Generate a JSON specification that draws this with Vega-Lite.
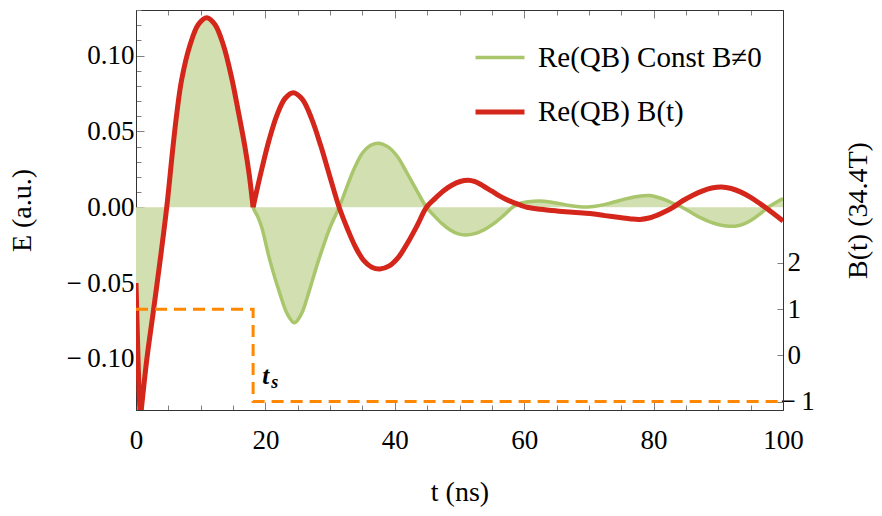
{
  "$schema": "https://vega.github.io/schema/vega-lite/v6.json",
  "width": 647,
  "height": 400,
  "autosize": {"type": "none"},
  "padding": {"left": 136, "top": 10, "right": 99, "bottom": 106},
  "background": "white",
  "config": {
    "view": {"stroke": "#333333", "strokeWidth": 1},
    "font": "Liberation Serif",
    "axis": {
      "grid": false,
      "domainColor": "#333333",
      "domainWidth": 1,
      "tickColor": "#808080",
      "tickWidth": 1,
      "labelFont": "Liberation Serif",
      "labelFontSize": 27,
      "labelColor": "#000000",
      "titleFont": "Liberation Serif",
      "titleFontSize": 28,
      "titleFontWeight": "normal",
      "titleColor": "#000000",
      "labelFlush": false,
      "labelOverlap": false,
      "labelBound": false
    },
    "legend": {
      "orient": "none",
      "legendX": 337,
      "legendY": 21,
      "padding": 0,
      "symbolType": "stroke",
      "symbolSize": 2401,
      "labelFont": "Liberation Serif",
      "labelFontSize": 29,
      "labelColor": "#000000",
      "labelOffset": 11,
      "labelLimit": 400,
      "rowPadding": 12
    }
  },
  "datasets": {
    "qb": [
      {"t": 0, "E": -0.050, "seg": "g", "series": "Re(QB) Const B≠0"},
      {"t": 0.25, "E": -0.090, "seg": "g", "series": "Re(QB) Const B≠0"},
      {"t": 0.5, "E": -0.124, "seg": "g", "series": "Re(QB) Const B≠0"},
      {"t": 0.7, "E": -0.137, "seg": "g", "series": "Re(QB) Const B≠0"},
      {"t": 0.95, "E": -0.128, "seg": "g", "series": "Re(QB) Const B≠0"},
      {"t": 1.65, "E": -0.101, "seg": "g", "series": "Re(QB) Const B≠0"},
      {"t": 2.7, "E": -0.068, "seg": "g", "series": "Re(QB) Const B≠0"},
      {"t": 3.7, "E": -0.036, "seg": "g", "series": "Re(QB) Const B≠0"},
      {"t": 4.75, "E": 0.0, "seg": "g", "series": "Re(QB) Const B≠0"},
      {"t": 5.67, "E": 0.038, "seg": "g", "series": "Re(QB) Const B≠0"},
      {"t": 6.28, "E": 0.061, "seg": "g", "series": "Re(QB) Const B≠0"},
      {"t": 7.05, "E": 0.084, "seg": "g", "series": "Re(QB) Const B≠0"},
      {"t": 8.35, "E": 0.107, "seg": "g", "series": "Re(QB) Const B≠0"},
      {"t": 9.63, "E": 0.1205, "seg": "g", "series": "Re(QB) Const B≠0"},
      {"t": 10.93, "E": 0.125, "seg": "g", "series": "Re(QB) Const B≠0"},
      {"t": 12.2, "E": 0.1205, "seg": "g", "series": "Re(QB) Const B≠0"},
      {"t": 13.5, "E": 0.107, "seg": "g", "series": "Re(QB) Const B≠0"},
      {"t": 14.8, "E": 0.085, "seg": "g", "series": "Re(QB) Const B≠0"},
      {"t": 15.8, "E": 0.0635, "seg": "g", "series": "Re(QB) Const B≠0"},
      {"t": 16.85, "E": 0.0395, "seg": "g", "series": "Re(QB) Const B≠0"},
      {"t": 17.5, "E": 0.0215, "seg": "g", "series": "Re(QB) Const B≠0"},
      {"t": 18.1, "E": 0.0, "seg": "g", "series": "Re(QB) Const B≠0"},
      {"t": 18.8, "E": -0.0060, "seg": "g", "series": "Re(QB) Const B≠0"},
      {"t": 19.43, "E": -0.0132, "seg": "g", "series": "Re(QB) Const B≠0"},
      {"t": 20.7, "E": -0.0352, "seg": "g", "series": "Re(QB) Const B≠0"},
      {"t": 22.26, "E": -0.0573, "seg": "g", "series": "Re(QB) Const B≠0"},
      {"t": 23.4, "E": -0.0705, "seg": "g", "series": "Re(QB) Const B≠0"},
      {"t": 24.5, "E": -0.0762, "seg": "g", "series": "Re(QB) Const B≠0"},
      {"t": 25.6, "E": -0.0700, "seg": "g", "series": "Re(QB) Const B≠0"},
      {"t": 26.5, "E": -0.0590, "seg": "g", "series": "Re(QB) Const B≠0"},
      {"t": 28.2, "E": -0.0352, "seg": "g", "series": "Re(QB) Const B≠0"},
      {"t": 30.0, "E": -0.0132, "seg": "g", "series": "Re(QB) Const B≠0"},
      {"t": 31.4, "E": 0.0, "seg": "g", "series": "Re(QB) Const B≠0"},
      {"t": 32.6, "E": 0.0135, "seg": "g", "series": "Re(QB) Const B≠0"},
      {"t": 33.8, "E": 0.0262, "seg": "g", "series": "Re(QB) Const B≠0"},
      {"t": 35.0, "E": 0.0358, "seg": "g", "series": "Re(QB) Const B≠0"},
      {"t": 36.2, "E": 0.0408, "seg": "g", "series": "Re(QB) Const B≠0"},
      {"t": 37.4, "E": 0.0423, "seg": "g", "series": "Re(QB) Const B≠0"},
      {"t": 38.9, "E": 0.0400, "seg": "g", "series": "Re(QB) Const B≠0"},
      {"t": 40.4, "E": 0.0335, "seg": "g", "series": "Re(QB) Const B≠0"},
      {"t": 41.9, "E": 0.0225, "seg": "g", "series": "Re(QB) Const B≠0"},
      {"t": 43.4, "E": 0.0110, "seg": "g", "series": "Re(QB) Const B≠0"},
      {"t": 44.9, "E": 0.0, "seg": "g", "series": "Re(QB) Const B≠0"},
      {"t": 46.1, "E": -0.0057, "seg": "g", "series": "Re(QB) Const B≠0"},
      {"t": 47.3, "E": -0.0108, "seg": "g", "series": "Re(QB) Const B≠0"},
      {"t": 48.5, "E": -0.0148, "seg": "g", "series": "Re(QB) Const B≠0"},
      {"t": 49.7, "E": -0.0174, "seg": "g", "series": "Re(QB) Const B≠0"},
      {"t": 50.9, "E": -0.0183, "seg": "g", "series": "Re(QB) Const B≠0"},
      {"t": 52.36, "E": -0.0174, "seg": "g", "series": "Re(QB) Const B≠0"},
      {"t": 53.82, "E": -0.0148, "seg": "g", "series": "Re(QB) Const B≠0"},
      {"t": 55.28, "E": -0.0108, "seg": "g", "series": "Re(QB) Const B≠0"},
      {"t": 56.74, "E": -0.0057, "seg": "g", "series": "Re(QB) Const B≠0"},
      {"t": 58.2, "E": 0.0, "seg": "g", "series": "Re(QB) Const B≠0"},
      {"t": 59.1, "E": 0.0022, "seg": "g", "series": "Re(QB) Const B≠0"},
      {"t": 60.6, "E": 0.0036, "seg": "g", "series": "Re(QB) Const B≠0"},
      {"t": 62.4, "E": 0.0041, "seg": "g", "series": "Re(QB) Const B≠0"},
      {"t": 64.0, "E": 0.0035, "seg": "g", "series": "Re(QB) Const B≠0"},
      {"t": 65.5, "E": 0.0024, "seg": "g", "series": "Re(QB) Const B≠0"},
      {"t": 67.0, "E": 0.0012, "seg": "g", "series": "Re(QB) Const B≠0"},
      {"t": 68.5, "E": 0.0004, "seg": "g", "series": "Re(QB) Const B≠0"},
      {"t": 69.8, "E": 0.0002, "seg": "g", "series": "Re(QB) Const B≠0"},
      {"t": 71.0, "E": 0.0007, "seg": "g", "series": "Re(QB) Const B≠0"},
      {"t": 72.5, "E": 0.0019, "seg": "g", "series": "Re(QB) Const B≠0"},
      {"t": 74.0, "E": 0.0036, "seg": "g", "series": "Re(QB) Const B≠0"},
      {"t": 75.5, "E": 0.0054, "seg": "g", "series": "Re(QB) Const B≠0"},
      {"t": 77.0, "E": 0.0068, "seg": "g", "series": "Re(QB) Const B≠0"},
      {"t": 78.4, "E": 0.0076, "seg": "g", "series": "Re(QB) Const B≠0"},
      {"t": 79.4, "E": 0.0077, "seg": "g", "series": "Re(QB) Const B≠0"},
      {"t": 80.6, "E": 0.0066, "seg": "g", "series": "Re(QB) Const B≠0"},
      {"t": 82.0, "E": 0.0045, "seg": "g", "series": "Re(QB) Const B≠0"},
      {"t": 83.3, "E": 0.0020, "seg": "g", "series": "Re(QB) Const B≠0"},
      {"t": 84.4, "E": 0.0, "seg": "g", "series": "Re(QB) Const B≠0"},
      {"t": 85.8, "E": -0.0035, "seg": "g", "series": "Re(QB) Const B≠0"},
      {"t": 87.3, "E": -0.0070, "seg": "g", "series": "Re(QB) Const B≠0"},
      {"t": 88.8, "E": -0.0098, "seg": "g", "series": "Re(QB) Const B≠0"},
      {"t": 90.3, "E": -0.0117, "seg": "g", "series": "Re(QB) Const B≠0"},
      {"t": 91.6, "E": -0.0125, "seg": "g", "series": "Re(QB) Const B≠0"},
      {"t": 92.6, "E": -0.0125, "seg": "g", "series": "Re(QB) Const B≠0"},
      {"t": 93.8, "E": -0.0113, "seg": "g", "series": "Re(QB) Const B≠0"},
      {"t": 95.2, "E": -0.0082, "seg": "g", "series": "Re(QB) Const B≠0"},
      {"t": 96.5, "E": -0.0042, "seg": "g", "series": "Re(QB) Const B≠0"},
      {"t": 97.7, "E": 0.0, "seg": "g", "series": "Re(QB) Const B≠0"},
      {"t": 98.9, "E": 0.0032, "seg": "g", "series": "Re(QB) Const B≠0"},
      {"t": 100, "E": 0.0058, "seg": "g", "series": "Re(QB) Const B≠0"},

      {"t": 0, "E": -0.050, "seg": "r1", "series": "Re(QB) B(t)"},
      {"t": 0.25, "E": -0.090, "seg": "r1", "series": "Re(QB) B(t)"},
      {"t": 0.5, "E": -0.124, "seg": "r1", "series": "Re(QB) B(t)"},
      {"t": 0.7, "E": -0.137, "seg": "r1", "series": "Re(QB) B(t)"},
      {"t": 0.95, "E": -0.128, "seg": "r1", "series": "Re(QB) B(t)"},
      {"t": 1.65, "E": -0.101, "seg": "r1", "series": "Re(QB) B(t)"},
      {"t": 2.7, "E": -0.068, "seg": "r1", "series": "Re(QB) B(t)"},
      {"t": 3.7, "E": -0.036, "seg": "r1", "series": "Re(QB) B(t)"},
      {"t": 4.75, "E": 0.0, "seg": "r1", "series": "Re(QB) B(t)"},
      {"t": 5.67, "E": 0.038, "seg": "r1", "series": "Re(QB) B(t)"},
      {"t": 6.28, "E": 0.061, "seg": "r1", "series": "Re(QB) B(t)"},
      {"t": 7.05, "E": 0.084, "seg": "r1", "series": "Re(QB) B(t)"},
      {"t": 8.35, "E": 0.107, "seg": "r1", "series": "Re(QB) B(t)"},
      {"t": 9.63, "E": 0.1205, "seg": "r1", "series": "Re(QB) B(t)"},
      {"t": 10.93, "E": 0.125, "seg": "r1", "series": "Re(QB) B(t)"},
      {"t": 12.2, "E": 0.1205, "seg": "r1", "series": "Re(QB) B(t)"},
      {"t": 13.5, "E": 0.107, "seg": "r1", "series": "Re(QB) B(t)"},
      {"t": 14.8, "E": 0.085, "seg": "r1", "series": "Re(QB) B(t)"},
      {"t": 15.8, "E": 0.0635, "seg": "r1", "series": "Re(QB) B(t)"},
      {"t": 16.85, "E": 0.0395, "seg": "r1", "series": "Re(QB) B(t)"},
      {"t": 17.5, "E": 0.0215, "seg": "r1", "series": "Re(QB) B(t)"},
      {"t": 18.1, "E": 0.0, "seg": "r1", "series": "Re(QB) B(t)"},

      {"t": 18.1, "E": 0.0, "seg": "r2", "series": "Re(QB) B(t)"},
      {"t": 19.34, "E": 0.0234, "seg": "r2", "series": "Re(QB) B(t)"},
      {"t": 20.58, "E": 0.0445, "seg": "r2", "series": "Re(QB) B(t)"},
      {"t": 21.82, "E": 0.0612, "seg": "r2", "series": "Re(QB) B(t)"},
      {"t": 23.06, "E": 0.0719, "seg": "r2", "series": "Re(QB) B(t)"},
      {"t": 24.3, "E": 0.0756, "seg": "r2", "series": "Re(QB) B(t)"},
      {"t": 25.72, "E": 0.0712, "seg": "r2", "series": "Re(QB) B(t)"},
      {"t": 27.14, "E": 0.0585, "seg": "r2", "series": "Re(QB) B(t)"},
      {"t": 28.56, "E": 0.0405, "seg": "r2", "series": "Re(QB) B(t)"},
      {"t": 29.98, "E": 0.0200, "seg": "r2", "series": "Re(QB) B(t)"},
      {"t": 31.4, "E": 0.0, "seg": "r2", "series": "Re(QB) B(t)"},
      {"t": 32.66, "E": -0.0140, "seg": "r2", "series": "Re(QB) B(t)"},
      {"t": 33.92, "E": -0.0262, "seg": "r2", "series": "Re(QB) B(t)"},
      {"t": 35.18, "E": -0.0350, "seg": "r2", "series": "Re(QB) B(t)"},
      {"t": 36.44, "E": -0.0395, "seg": "r2", "series": "Re(QB) B(t)"},
      {"t": 37.7, "E": -0.0407, "seg": "r2", "series": "Re(QB) B(t)"},
      {"t": 39.14, "E": -0.0387, "seg": "r2", "series": "Re(QB) B(t)"},
      {"t": 40.58, "E": -0.0329, "seg": "r2", "series": "Re(QB) B(t)"},
      {"t": 42.02, "E": -0.0232, "seg": "r2", "series": "Re(QB) B(t)"},
      {"t": 43.46, "E": -0.0120, "seg": "r2", "series": "Re(QB) B(t)"},
      {"t": 44.9, "E": 0.0, "seg": "r2", "series": "Re(QB) B(t)"},
      {"t": 46.2, "E": 0.0057, "seg": "r2", "series": "Re(QB) B(t)"},
      {"t": 47.5, "E": 0.0107, "seg": "r2", "series": "Re(QB) B(t)"},
      {"t": 48.8, "E": 0.0145, "seg": "r2", "series": "Re(QB) B(t)"},
      {"t": 50.1, "E": 0.0170, "seg": "r2", "series": "Re(QB) B(t)"},
      {"t": 51.4, "E": 0.0178, "seg": "r2", "series": "Re(QB) B(t)"},
      {"t": 52.3, "E": 0.0170, "seg": "r2", "series": "Re(QB) B(t)"},
      {"t": 53.3, "E": 0.0150, "seg": "r2", "series": "Re(QB) B(t)"},
      {"t": 54.2, "E": 0.0126, "seg": "r2", "series": "Re(QB) B(t)"},
      {"t": 55.2, "E": 0.0101, "seg": "r2", "series": "Re(QB) B(t)"},
      {"t": 56.1, "E": 0.0077, "seg": "r2", "series": "Re(QB) B(t)"},
      {"t": 57.0, "E": 0.0056, "seg": "r2", "series": "Re(QB) B(t)"},
      {"t": 57.9, "E": 0.0039, "seg": "r2", "series": "Re(QB) B(t)"},
      {"t": 58.8, "E": 0.0024, "seg": "r2", "series": "Re(QB) B(t)"},
      {"t": 59.6, "E": 0.0011, "seg": "r2", "series": "Re(QB) B(t)"},
      {"t": 60.4, "E": 0.0, "seg": "r2", "series": "Re(QB) B(t)"},
      {"t": 62.5, "E": -0.0013, "seg": "r2", "series": "Re(QB) B(t)"},
      {"t": 65.0, "E": -0.0024, "seg": "r2", "series": "Re(QB) B(t)"},
      {"t": 67.5, "E": -0.0033, "seg": "r2", "series": "Re(QB) B(t)"},
      {"t": 70.2, "E": -0.0041, "seg": "r2", "series": "Re(QB) B(t)"},
      {"t": 72.5, "E": -0.0055, "seg": "r2", "series": "Re(QB) B(t)"},
      {"t": 74.8, "E": -0.0068, "seg": "r2", "series": "Re(QB) B(t)"},
      {"t": 76.5, "E": -0.0077, "seg": "r2", "series": "Re(QB) B(t)"},
      {"t": 77.9, "E": -0.0080, "seg": "r2", "series": "Re(QB) B(t)"},
      {"t": 79.3, "E": -0.0071, "seg": "r2", "series": "Re(QB) B(t)"},
      {"t": 80.5, "E": -0.0053, "seg": "r2", "series": "Re(QB) B(t)"},
      {"t": 81.8, "E": -0.0028, "seg": "r2", "series": "Re(QB) B(t)"},
      {"t": 83.0, "E": 0.0, "seg": "r2", "series": "Re(QB) B(t)"},
      {"t": 84.5, "E": 0.0043, "seg": "r2", "series": "Re(QB) B(t)"},
      {"t": 86.0, "E": 0.0078, "seg": "r2", "series": "Re(QB) B(t)"},
      {"t": 87.5, "E": 0.0107, "seg": "r2", "series": "Re(QB) B(t)"},
      {"t": 89.0, "E": 0.0127, "seg": "r2", "series": "Re(QB) B(t)"},
      {"t": 90.5, "E": 0.0134, "seg": "r2", "series": "Re(QB) B(t)"},
      {"t": 92.0, "E": 0.0124, "seg": "r2", "series": "Re(QB) B(t)"},
      {"t": 93.5, "E": 0.0100, "seg": "r2", "series": "Re(QB) B(t)"},
      {"t": 95.0, "E": 0.0065, "seg": "r2", "series": "Re(QB) B(t)"},
      {"t": 96.5, "E": 0.0022, "seg": "r2", "series": "Re(QB) B(t)"},
      {"t": 97.5, "E": -0.0008, "seg": "r2", "series": "Re(QB) B(t)"},
      {"t": 100, "E": -0.0090, "seg": "r2", "series": "Re(QB) B(t)"}
    ],
    "bt": [
      {"i": 0, "t": 0, "B": 1},
      {"i": 1, "t": 18.1, "B": 1},
      {"i": 2, "t": 18.1, "B": -1},
      {"i": 3, "t": 100, "B": -1}
    ],
    "ts": [
      {"t": 19.5, "B": -0.61}
    ]
  },
  "layer": [
    {
      "data": {"name": "qb"},
      "layer": [
        {
          "transform": [{"filter": "datum.seg == 'g'"}],
          "mark": {"type": "area", "interpolate": "catmull-rom", "color": "#D2DFB0", "clip": true},
          "encoding": {
            "x": {
              "field": "t", "type": "quantitative",
              "scale": {"domain": [0, 100], "nice": false, "zero": false},
              "axis": {
                "orient": "bottom",
                "values": [0, 5, 10, 15, 20, 25, 30, 35, 40, 45, 50, 55, 60, 65, 70, 75, 80, 85, 90, 95, 100],
                "tickCount": 200,
                "labelExpr": "datum.value % 20 === 0 ? format(datum.value, 'd') : ''",
                "labelFontSize": {"condition": {"test": "datum.value % 20 === 0", "value": 27}, "value": 0},
                "tickSize": {"condition": {"test": "datum.value % 20 === 0", "value": -8}, "value": -5},
                "labelPadding": 25,
                "labelOverlap": false,
                "title": "t (ns)",
                "titlePadding": 25
              }
            },
            "y": {
              "field": "E", "type": "quantitative",
              "scale": {"domain": [-0.1337, 0.1301], "nice": false, "zero": false},
              "axis": {
                "orient": "left",
                "values": [-0.13, -0.12, -0.11, -0.1, -0.09, -0.08, -0.07, -0.06, -0.05, -0.04, -0.03, -0.02, -0.01, 0, 0.01, 0.02, 0.03, 0.04, 0.05, 0.06, 0.07, 0.08, 0.09, 0.1, 0.11, 0.12, 0.13],
                "tickCount": 200,
                "labelExpr": "abs(round(datum.value * 100)) % 5 === 0 ? (datum.value < 0 ? '−\u2009' + format(-datum.value, '.2f') : format(datum.value, '.2f')) : ''",
                "labelFontSize": {"condition": {"test": "abs(round(datum.value * 100)) % 5 === 0", "value": 27}, "value": 0},
                "tickSize": {"condition": {"test": "abs(round(datum.value * 100)) % 5 === 0", "value": -8}, "value": -5},
                "labelPadding": 10,
                "labelOverlap": false,
                "title": "E (a.u.)",
                "titlePadding": 30
              }
            },
            "y2": {"datum": 0}
          }
        },
        {
          "transform": [{"filter": "datum.seg == 'g'"}],
          "mark": {"type": "line", "interpolate": "catmull-rom", "clip": true},
          "encoding": {
            "x": {"field": "t", "type": "quantitative"},
            "y": {"field": "E", "type": "quantitative"},
            "color": {
              "field": "series", "type": "nominal",
              "scale": {"domain": ["Re(QB) Const B≠0", "Re(QB) B(t)"], "range": ["#A9C66C", "#D4261A"]},
              "legend": {"title": null}
            },
            "strokeWidth": {
              "field": "series", "type": "nominal",
              "scale": {"domain": ["Re(QB) Const B≠0", "Re(QB) B(t)"], "range": [3.5, 5]},
              "legend": {"title": null}
            }
          }
        },
        {
          "transform": [{"filter": "datum.seg != 'g'"}],
          "mark": {"type": "line", "interpolate": "catmull-rom", "clip": true},
          "encoding": {
            "x": {"field": "t", "type": "quantitative"},
            "y": {"field": "E", "type": "quantitative"},
            "detail": {"field": "seg"},
            "color": {"field": "series", "type": "nominal"},
            "strokeWidth": {"field": "series", "type": "nominal"}
          }
        }
      ]
    },
    {
      "layer": [
        {
          "data": {"name": "bt"},
          "mark": {"type": "line", "color": "#FF8800", "strokeWidth": 3, "strokeDash": [12, 7], "clip": true},
          "encoding": {
            "x": {
              "field": "t", "type": "quantitative",
              "scale": {"domain": [0, 100], "nice": false, "zero": false},
              "axis": {
                "orient": "top",
                "values": [0, 5, 10, 15, 20, 25, 30, 35, 40, 45, 50, 55, 60, 65, 70, 75, 80, 85, 90, 95, 100],
                "tickCount": 200,
                "labels": false,
                "tickSize": {"condition": {"test": "datum.value % 20 === 0", "value": -8}, "value": -5},
                "title": null
              }
            },
            "y": {
              "field": "B", "type": "quantitative",
              "scale": {"domain": [-1.182, 7.476], "nice": false, "zero": false},
              "axis": {
                "orient": "right",
                "values": [-1, 0, 1, 2],
                "tickCount": 200,
                "labelExpr": "datum.value < 0 ? '−\u2009' + format(-datum.value, 'd') : format(datum.value, 'd')",
                "tickSize": -6,
                "labelPadding": {"condition": {"test": "datum.value < 0", "value": 3}, "value": 10},
                "labelOverlap": false,
                "title": "B(t) (34.4T)",
                "titleAngle": 270,
                "titlePadding": 58
              }
            },
            "order": {"field": "i"}
          }
        },
        {
          "data": {"name": "ts"},
          "mark": {"type": "text", "text": "t", "font": "Liberation Serif", "fontStyle": "italic", "fontWeight": "bold", "fontSize": 25, "align": "left", "baseline": "alphabetic"},
          "encoding": {
            "x": {"field": "t", "type": "quantitative"},
            "y": {"field": "B", "type": "quantitative"}
          }
        },
        {
          "data": {"name": "ts"},
          "mark": {"type": "text", "text": "s", "font": "Liberation Serif", "fontStyle": "italic", "fontWeight": "bold", "fontSize": 18, "align": "left", "baseline": "alphabetic", "dx": 9, "dy": 4},
          "encoding": {
            "x": {"field": "t", "type": "quantitative"},
            "y": {"field": "B", "type": "quantitative"}
          }
        }
      ]
    }
  ],
  "resolve": {"scale": {"y": "independent"}, "axis": {"x": "independent"}}
}
